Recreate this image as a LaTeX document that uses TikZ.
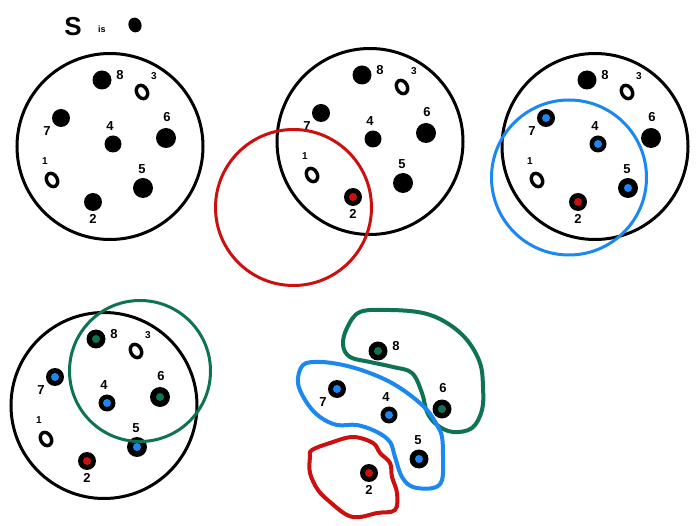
\documentclass[tikz,border=0pt]{standalone}
\usepackage{fontspec}
\setmainfont{Liberation Sans}
\usetikzlibrary{shapes.geometric}
\definecolor{myred}{RGB}{204,16,16}
\definecolor{myblue}{RGB}{26,136,240}
\definecolor{mygreen}{RGB}{14,115,85}
\tikzset{
  setcirc/.style={draw=black, line width=3pt, circle, inner sep=0pt, minimum size=186pt},
  subcirc/.style={draw=#1, line width=3pt, circle, inner sep=0pt},
  dotnode/.style={circle, fill=black, inner sep=0pt, minimum size=#1},
  cdot/.style n args={2}{dotnode=#1, path picture={\fill[#2] (path picture bounding box.center) circle (4pt);}},
  ring/.style={ellipse, draw=black, line width=3.4pt, inner sep=0pt, minimum width=10.5pt, minimum height=14pt, rotate=28},
  lab/.style={font=\bfseries\fontsize{13}{13}\selectfont, inner sep=0pt},
  slab/.style={font=\bfseries\fontsize{10}{10}\selectfont, inner sep=0pt},
  blob/.style={draw=#1, line width=4pt, line join=round}
}
\newcommand{\drawpointset}[7]{%
  \node[setcirc] (#1c) at (110,146.5) {};
  \node[cdot={19pt}{#2}] (#1d8) at (102,80) {};
  \node[lab] (#1l8) at (120,75) {8};
  \node[ring] (#1d3) at (142,92) {};
  \node[slab] (#1l3) at (154,76) {3};
  \node[cdot={18pt}{#3}] (#1d7) at (61,118) {};
  \node[lab] (#1l7) at (47,131) {7};
  \node[cdot={17pt}{#4}] (#1d4) at (113,144) {};
  \node[lab] (#1l4) at (110,126) {4};
  \node[cdot={20pt}{#5}] (#1d6) at (166,138) {};
  \node[lab] (#1l6) at (167,117) {6};
  \node[ring] (#1d1) at (52,180) {};
  \node[slab] (#1l1) at (45,161) {1};
  \node[cdot={20pt}{#6}] (#1d5) at (143,188) {};
  \node[lab] (#1l5) at (142,169) {5};
  \node[cdot={18pt}{#7}] (#1d2) at (93,202) {};
  \node[lab] (#1l2) at (93,219) {2};
}
\begin{document}
\begin{tikzpicture}[x=1pt,y=-1pt]
\fill[white] (0,0) rectangle (699,526);
\useasboundingbox (0,0) rectangle (699,526);

% title
\node[font=\fontsize{26}{26}\selectfont\bfseries, inner sep=0pt] (tS) at (73,27) {S};
\node[font=\fontsize{9}{9}\selectfont\bfseries, inner sep=0pt] (tis) at (102,29) {is};
\node[ellipse, fill=black, inner sep=0pt, minimum width=13pt, minimum height=15pt, rotate=20] (tdot) at (135,25) {};

% panel 1
\drawpointset{a}{black}{black}{black}{black}{black}{black}

% panel 2
\begin{scope}[shift={(260,-5)}]
\drawpointset{b}{black}{black}{black}{black}{black}{myred}
\end{scope}
\node[subcirc=myred, minimum size=156pt] (bred) at (293.5,207.5) {};

% panel 3
\begin{scope}[shift={(485,0)}]
\drawpointset{c}{black}{myblue}{myblue}{black}{myblue}{myred}
\end{scope}
\node[subcirc=myblue, minimum size=155pt] (cblue) at (569,177.5) {};

% panel 4
\begin{scope}[shift={(-6,259)}]
\drawpointset{d}{mygreen}{myblue}{myblue}{mygreen}{myblue}{myred}
\end{scope}
\node[subcirc=mygreen, minimum size=141pt] (dgreen) at (140,371) {};

% panel 5 : partition
\draw[blob=mygreen] plot[smooth cycle, tension=0.6] coordinates {
 (360,312) (390,310) (423,313) (447,323) (467,340) (480,363) (483,387) (482,410)
 (472,428) (453,432) (437,425) (427,412) (422,393) (412,373) (393,367) (370,362)
 (350,357) (343,345) (347,328)};
\draw[blob=myblue] plot[smooth cycle, tension=0.6] coordinates {
 (303,365) (320,362) (343,365) (367,372) (390,382) (410,395) (427,410) (437,425)
 (442,437) (443,457) (442,480) (433,488) (413,487) (402,477) (395,457) (390,442)
 (377,432) (357,425) (337,425) (320,417) (307,403) (298,383)};
\draw[blob=myred] plot[smooth cycle, tension=0.6] coordinates {
 (312,450) (330,443) (353,437) (373,443) (380,453) (390,463) (392,477) (397,493)
 (395,510) (377,513) (360,517) (347,515) (330,502) (318,490) (310,473) (310,457)};
\begin{scope}[shift={(276,271)}]
  \node[cdot={19pt}{mygreen}] (ed8) at (102,80) {};
  \node[lab] (el8) at (120,75) {8};
  \node[cdot={18pt}{myblue}] (ed7) at (61,118) {};
  \node[lab] (el7) at (47,131) {7};
  \node[cdot={17pt}{myblue}] (ed4) at (113,144) {};
  \node[lab] (el4) at (110,126) {4};
  \node[cdot={19pt}{mygreen}] (ed6) at (166,138) {};
  \node[lab] (el6) at (167,117) {6};
  \node[cdot={19pt}{myblue}] (ed5) at (143,188) {};
  \node[lab] (el5) at (142,169) {5};
  \node[cdot={18pt}{myred}] (ed2) at (93,202) {};
  \node[lab] (el2) at (93,219) {2};
\end{scope}
\end{tikzpicture}
\end{document}
